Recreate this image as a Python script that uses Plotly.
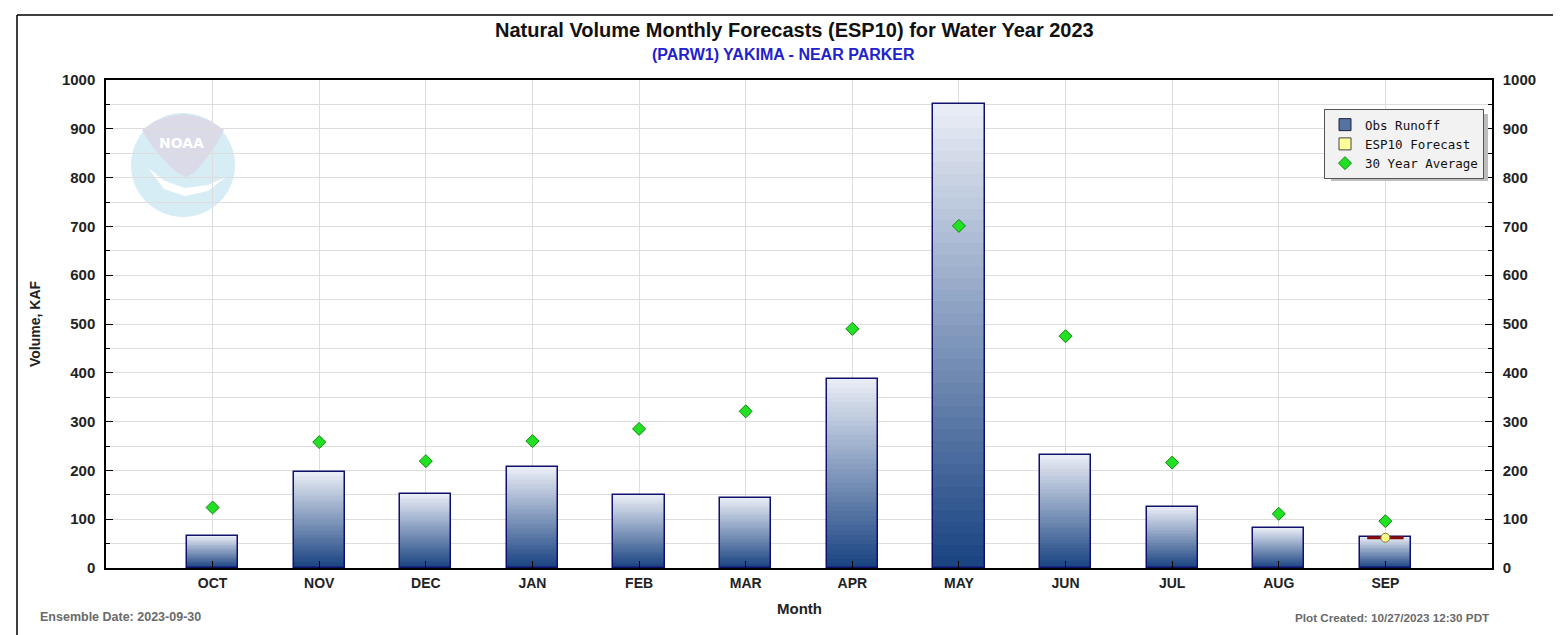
import plotly.graph_objects as go

months = ["OCT", "NOV", "DEC", "JAN", "FEB", "MAR", "APR", "MAY", "JUN", "JUL", "AUG", "SEP"]
obs_runoff = [66, 196, 152, 206, 149, 144, 388, 950, 232, 126, 82, 64]
avg_30yr = [124, 258, 219, 260, 285, 321, 490, 701, 475, 216, 111, 96]
esp10_forecast = [None, None, None, None, None, None, None, None, None, None, None, 62]

OFF = 8  # page body margin
W, H = 1561 - OFF, 635 - OFF
ML, MT = 106 - OFF, 80 - OFF
PW, PH = 1386, 488
MR = W - ML - PW
MB = H - MT - PH


def px(x, y):
    """page pixel -> paper coords (decorations only)"""
    return (x - OFF - ML) / PW, (H - MB - (y - OFF)) / PH


fig = go.Figure()

# gradient bars: overlaid bars of decreasing height
N = 40
top_c = (232, 236, 245)
bot_c = (26, 68, 130)
for i in range(N):
    f = 1 - i / N
    t = i / (N - 1)
    c = tuple(round(top_c[k] + (bot_c[k] - top_c[k]) * t) for k in range(3))
    fig.add_trace(go.Bar(
        x=months, y=[v * f for v in obs_runoff], width=0.48,
        marker=dict(color="rgb(%d,%d,%d)" % c, line=dict(width=0)),
        showlegend=False, hoverinfo="skip"))
# outline
fig.add_trace(go.Bar(
    x=months, y=obs_runoff, width=0.48, name="Obs Runoff",
    marker=dict(color="rgba(0,0,0,0)", line=dict(color="#10106e", width=1.5)),
    showlegend=False))

# legend-only entries
fig.add_trace(go.Bar(x=[None], y=[None], name="Obs Runoff",
                     marker=dict(color="#5473a0", line=dict(color="#222244", width=1))))
fig.add_trace(go.Bar(x=[None], y=[None], name="ESP10 Forecast",
                     marker=dict(color="#ffff99", line=dict(color="#444444", width=1))))

# ESP10 forecast marker (red range line + yellow circle)
fig.add_trace(go.Scatter(
    x=months, y=esp10_forecast, mode="markers", showlegend=False,
    marker=dict(symbol="line-ew", size=26, line=dict(color="#8b0b0b", width=3))))
fig.add_trace(go.Scatter(
    x=months, y=esp10_forecast, mode="markers", showlegend=False,
    marker=dict(symbol="circle", size=9, color="#ffff88", line=dict(color="#777744", width=1))))

# 30 Year Average (on the mirrored right axis, same range)
fig.add_trace(go.Scatter(
    x=months, y=avg_30yr, mode="markers", name="30 Year Average", yaxis="y2",
    marker=dict(symbol="diamond", size=10, color="#22e022", line=dict(color="#118811", width=1))))

shapes = []
# NOAA watermark
cx0, cy0 = px(131, 217)
cx1, cy1 = px(235, 113)
shapes.append(dict(type="circle", xref="paper", yref="paper", x0=cx0, y0=cy0, x1=cx1, y1=cy1,
                   fillcolor="#d6edf6", line=dict(width=0), layer="below"))


def pth(points):
    s = ""
    for k, (a, b) in enumerate(points):
        xx, yy = px(a, b)
        s += ("M" if k == 0 else "L") + "%.5f,%.5f " % (xx, yy)
    return s + "Z"


grey_pts = [(142, 130), (155, 121), (170, 116), (183, 114), (196, 116), (211, 121), (224, 130),
            (216, 145), (205, 160), (195, 172), (186, 177), (176, 172), (164, 160), (152, 146)]
shapes.append(dict(type="path", xref="paper", yref="paper", path=pth(grey_pts),
                   fillcolor="#dadae8", line=dict(width=0), layer="below"))
swoosh = [(148, 168), (165, 181), (185, 188), (208, 185), (226, 177), (208, 191), (185, 196),
          (164, 189)]
shapes.append(dict(type="path", xref="paper", yref="paper", path=pth(swoosh),
                   fillcolor="#ffffff", line=dict(width=0), layer="below"))

# outer frame (top and left)
fx0, fy0 = px(17, 15)
fx1, _ = px(1570, 15)
_, fyb = px(17, 645)
shapes.append(dict(type="line", xref="paper", yref="paper", x0=fx0, y0=fy0, x1=fx1, y1=fy0,
                   line=dict(color="#000000", width=1.5)))
shapes.append(dict(type="line", xref="paper", yref="paper", x0=fx0, y0=fy0, x1=fx0, y1=fyb,
                   line=dict(color="#000000", width=1.5)))
# legend shadow
sx0, sy0 = px(1331, 181)
sx1, sy1 = px(1488, 114)
shapes.append(dict(type="rect", xref="paper", yref="paper", x0=sx0, y0=sy0, x1=sx1, y1=sy1,
                   fillcolor="#bdbdbd", line=dict(width=0), layer="above"))

annotations = []


def note(text, x, y, size, color, xanchor="center", family="Liberation Sans", angle=0):
    ax, ay = px(x, y)
    annotations.append(dict(text=text, xref="paper", yref="paper", x=ax, y=ay,
                            xanchor=xanchor, yanchor="middle", showarrow=False, textangle=angle,
                            font=dict(family=family, size=size, color=color)))


note("<b>Natural Volume Monthly Forecasts (ESP10) for Water Year 2023</b>", 794, 30, 20, "#111111")
note("<b>(PARW1) YAKIMA - NEAR PARKER</b>", 783, 54, 16, "#2222cc")
note("<b>Ensemble Date: 2023-09-30</b>", 38, 617, 12.5, "#6a6a6a", xanchor="left")
note("<b>Plot Created: 10/27/2023 12:30 PDT</b>", 1492, 617, 11.7, "#6a6a6a", xanchor="right")
note("<b>NOAA</b>", 181, 143, 14, "#ffffff", family="DejaVu Sans")
note("<b>Month</b>", 799, 608, 15, "#222222")
note("<b>Volume, KAF</b>", 35, 324, 14, "#222222", angle=-90)

ytickfont = dict(family="Liberation Sans", size=15, color="#222222")

fig.update_layout(
    width=W, height=H,
    margin=dict(l=ML, r=MR, t=MT, b=MB),
    paper_bgcolor="#ffffff", plot_bgcolor="#ffffff",
    barmode="overlay", bargap=0,
    showlegend=True,
    legend=dict(x=px(1484, 0)[0], y=px(0, 109)[1], xanchor="right", yanchor="top",
                bgcolor="#f2f2f2", bordercolor="#555555", borderwidth=1,
                font=dict(family="DejaVu Sans Mono", size=12.5, color="#111111"),
                itemwidth=30, tracegroupgap=0),
    shapes=shapes, annotations=annotations,
    xaxis=dict(type="category", categoryorder="array", categoryarray=months,
               range=[-1, 12], showgrid=True, gridcolor="#dddddd", gridwidth=1,
               showline=True, linecolor="#000000", linewidth=1.5, mirror=True,
               ticks="inside", ticklen=7, tickcolor="#000000", ticklabelstandoff=1,
               tickfont=dict(family="Liberation Sans", size=14, color="#222222"),
               tickprefix="<b>", ticksuffix="</b>", zeroline=False),
    yaxis=dict(range=[0, 1000], dtick=100, showgrid=True, gridcolor="#dddddd", gridwidth=1,
               showline=True, linecolor="#000000", linewidth=1.5,
               ticks="inside", ticklen=7, tickcolor="#000000", ticklabelstandoff=6,
               minor=dict(dtick=50, showgrid=True, gridcolor="#dddddd", ticks="inside",
                          ticklen=4, tickcolor="#000000"),
               tickfont=ytickfont, tickprefix="<b>", ticksuffix="</b>", zeroline=False),
    yaxis2=dict(range=[0, 1000], dtick=100, overlaying="y", side="right", showgrid=False,
                showline=True, linecolor="#000000", linewidth=1.5,
                ticks="inside", ticklen=7, tickcolor="#000000", ticklabelstandoff=6,
                minor=dict(dtick=50, ticks="inside", ticklen=4, tickcolor="#000000"),
                tickfont=ytickfont, tickprefix="<b>", ticksuffix="</b>", zeroline=False),
)

fig.write_html("out.html")
